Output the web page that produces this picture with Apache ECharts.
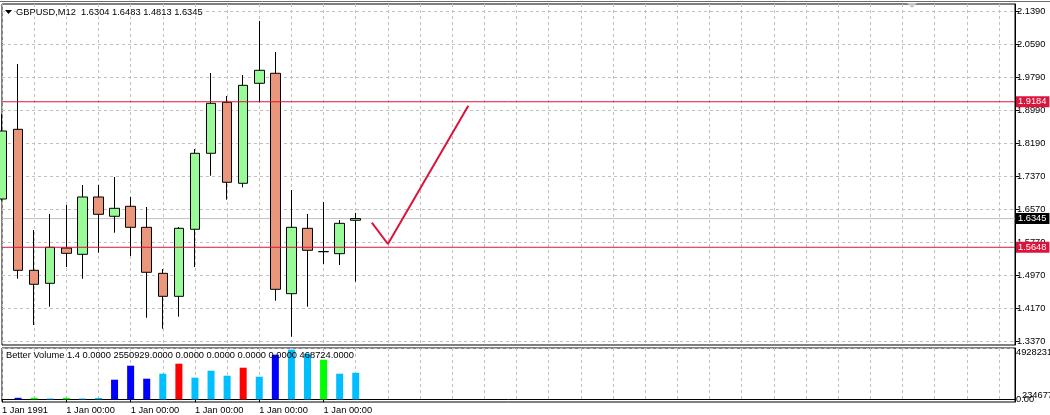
<!DOCTYPE html>
<html><head><meta charset="utf-8">
<script src="https://cdn.jsdelivr.net/npm/echarts@6/dist/echarts.min.js"></script>
<style>html,body{margin:0;padding:0;background:#fff}#c{width:1050px;height:415px}</style>
</head><body><div id="c"></div>
<script>
// ---------------- data ----------------
const symbol = 'GBPUSD';
const timeframe = 'M12';
const barTimes = ['1 Jan 1991','1 Jan 00:00','1 Jan 00:00','1 Jan 00:00','1 Jan 00:00','1 Jan 00:00','1 Jan 00:00','1 Jan 00:00',
  '1 Jan 00:00','1 Jan 00:00','1 Jan 00:00','1 Jan 00:00','1 Jan 00:00','1 Jan 00:00','1 Jan 00:00','1 Jan 00:00',
  '1 Jan 00:00','1 Jan 00:00','1 Jan 00:00','1 Jan 00:00','1 Jan 00:00','1 Jan 00:00','1 Jan 00:00'];
const opens  = [1.6821,1.8515,1.5088,1.4772,1.5630,1.5477,1.6870,1.6401,1.6644,1.6133,1.5015,1.4456,1.6085,1.7932,1.9171,1.7203,1.9633,1.9876,1.4520,1.6109,1.5543,1.5492,1.6304];
const closes = [1.8474,1.5088,1.4748,1.5647,1.5501,1.6870,1.6449,1.6595,1.6133,1.5040,1.4456,1.6109,1.7932,1.9147,1.7227,1.9584,1.9949,1.4626,1.6133,1.5574,1.5540,1.6230,1.6345];
const lows   = [1.6780,1.4884,1.3759,1.4204,1.5168,1.4884,1.5516,1.6002,1.5436,1.3936,1.3669,1.3961,1.5168,1.7387,1.6804,1.7105,1.9171,1.4349,1.3474,1.4204,1.5241,1.5217,1.4813];
const highs  = [1.8887,2.0102,1.6068,1.6457,1.6675,1.7161,1.7161,1.7356,1.6870,1.6627,1.5120,1.6141,1.8036,1.9883,1.9324,1.9835,2.1147,2.0394,1.7040,1.6457,1.6748,1.6311,1.6483];
const volumes = [null,144000,144000,77000,144000,77000,130000,1883000,3228000,1979000,2459000,3420000,2075000,2748000,2267000,3036000,2171000,4285000,4765000,4381000,3804000,2459000,2550929];
const volKinds = [null,'low','churn','normal','churn','normal','normal','low','low','low','normal','climaxUp','normal','normal','normal','climaxUp','normal','low','normal','normal','churn','normal','normal'];
const volHeaderName = 'Better Volume 1.4';
const volHeaderValues = [0, 2550929, 0, 0, 0, 0, 468724];
const priceTickLabels = ['1.3370','1.4170','1.4970','1.5770','1.6570','1.7370','1.8190','1.8990','1.9790','2.0590','2.1390'];
const volAxisMax = 4928231;
const volAxisLabels = ['0.00','4928231'];
const volExtraLabel = '234677';
const levelLines = [1.9184, 1.5648];
const trendPoints = [[23, 1.6245], [24, 1.5727], [29, 1.9089]];

// ---------------- layout / style ----------------
const CRIMSON = '#DC143C';
const FONT = '"Liberation Sans", Arial, sans-serif';
const FS = 9.3;
const GRIDC = '#C0C0C0';
const nSlots = 64;
const tickBase = 1.337, tickStep = 0.0802;
const tickPos = priceTickLabels.map((_, k) => +(tickBase + k * tickStep).toFixed(6));
const cats = barTimes.concat(new Array(nSlots - barTimes.length).fill(''));
const kindColor = {low:'#0000FF', normal:'#00BFFF', climaxUp:'#FF0000', churn:'#00FF00'};
const candleData = opens.map((o, i) => [o, closes[i], lows[i], highs[i]]);
const volData = volumes.map((v, i) => v == null ? null : {value: v, itemStyle: {color: kindColor[volKinds[i]]}});
const last = opens.length - 1;
const header = symbol + ',' + timeframe + '  ' + [opens[last], highs[last], lows[last], closes[last]].map(v => v.toFixed(4)).join(' ');
const volHeader = volHeaderName + ' ' + volHeaderValues.map(v => v.toFixed(4)).join(' ');
const bid = closes[last];
const txt = {fontFamily: FONT, fontSize: FS, color: '#000'};
const dash = {color: GRIDC, type: [3, 3], width: 1};
const labelInterval = (i) => i % 4 === 0 && cats[i] !== '';
const endLbl = (bg) => Object.assign({show: true, distance: 1, formatter: (p) => Number(p.value[1]).toFixed(4),
  backgroundColor: bg, padding: [1, 3, 0, 2], lineHeight: 10}, txt, {color: '#fff'});
// horizontal price level drawn as a line series across the whole category range
const hLineSeries = (value, color, bg, z) => ({
  type: 'line', xAxisIndex: 0, yAxisIndex: 0, z: z, silent: true, symbol: 'none', clip: false,
  data: [[0, value], [nSlots - 1, value]],
  lineStyle: {color: color, width: 1, type: 'solid'}, itemStyle: {color: color},
  endLabel: endLbl(bg)
});

const chart = echarts.init(document.getElementById('c'), null, {renderer: 'canvas'});
chart.setOption({
  animation: false,
  backgroundColor: '#fff',
  title: [
    {text: header, left: 16, top: 7.5, padding: 0, backgroundColor: '#fff',
     textStyle: Object.assign({fontWeight: 'normal'}, txt)},
    {text: volHeader, left: 6, top: 350.5, padding: 0, textStyle: Object.assign({fontWeight: 'normal'}, txt)}
  ],
  grid: [
    {left: 2, right: 35, top: 4, height: 341, show: true, borderColor: '#000', borderWidth: 1, backgroundColor: '#fff',
     outerBoundsMode: 'none', containLabel: false},
    {left: 2, right: 35, top: 348, height: 54, show: true, borderColor: '#000', borderWidth: 1, backgroundColor: '#fff',
     outerBoundsMode: 'none', containLabel: false}
  ],
  xAxis: [
    {gridIndex: 0, type: 'category', data: cats, boundaryGap: false,
     axisLine: {show: false}, axisTick: {show: false}, axisLabel: {show: false},
     splitLine: {show: true, interval: 1, lineStyle: dash}},
    {gridIndex: 1, type: 'category', data: cats, boundaryGap: false,
     axisLine: {show: true, lineStyle: {color: '#000'}},
     axisTick: {show: true, interval: labelInterval, length: 3, lineStyle: {color: '#000'}},
     axisLabel: Object.assign({interval: labelInterval, align: 'left', margin: 4}, txt),
     splitLine: {show: true, interval: 1, lineStyle: dash}}
  ],
  yAxis: [
    {gridIndex: 0, type: 'value', position: 'right', min: 1.32728, max: 2.15601,
     axisLine: {show: true, lineStyle: {color: '#000'}},
     axisTick: {show: true, length: 4, customValues: tickPos, lineStyle: {color: '#000'}},
     axisLabel: Object.assign({customValues: tickPos, margin: 2,
       formatter: (v) => priceTickLabels[Math.round((v - tickBase) / tickStep)]}, txt),
     splitLine: {show: true, lineStyle: dash}},
    {gridIndex: 1, type: 'value', position: 'right', min: -259380, max: volAxisMax,
     axisLine: {show: true, lineStyle: {color: '#000'}},
     axisTick: {show: false, customValues: [0, volAxisMax]},
     axisLabel: Object.assign({customValues: [0, volAxisMax], margin: 1, verticalAlignMaxLabel: 'top',
       formatter: (v) => v === 0 ? volAxisLabels[0] : volAxisLabels[1]}, txt),
     splitLine: {show: true, lineStyle: dash}}
  ],
  graphic: [
    {type: 'line', shape: {x1: 0, y1: 1.5, x2: 1050, y2: 1.5}, style: {stroke: '#6d6d6d', lineWidth: 1}, z: 10},
    {type: 'polygon', shape: {points: [[5, 10], [12, 10], [8.5, 14]]}, style: {fill: '#000'}, z: 10},
    {type: 'polygon', shape: {points: [[907, 3], [917, 3], [912, 8]]}, style: {fill: '#C8C8C8'}, z: 10},
    {type: 'text', x: 1022, y: 395, style: {text: volExtraLabel, verticalAlign: 'middle', fill: '#000', font: FS + 'px ' + FONT}, z: 10}
  ],
  series: [
    hLineSeries(bid, GRIDC, '#000', 1),
    {type: 'candlestick', xAxisIndex: 0, yAxisIndex: 0, data: candleData, barWidth: 10, clip: false, z: 2,
     itemStyle: {color: '#98FB98', color0: '#E9967A', borderColor: '#000', borderColor0: '#000', borderColorDoji: '#000', borderWidth: 1}},
    {type: 'line', name: 'trend', xAxisIndex: 0, yAxisIndex: 0, data: trendPoints, symbol: 'none', z: 3,
     lineStyle: {color: CRIMSON, width: 2}, itemStyle: {color: CRIMSON}, silent: true},
    hLineSeries(levelLines[0], CRIMSON, CRIMSON, 5),
    hLineSeries(levelLines[1], CRIMSON, CRIMSON, 5),
    {type: 'bar', xAxisIndex: 1, yAxisIndex: 1, data: volData, barWidth: 7, z: 2}
  ]
});
</script></body></html>
